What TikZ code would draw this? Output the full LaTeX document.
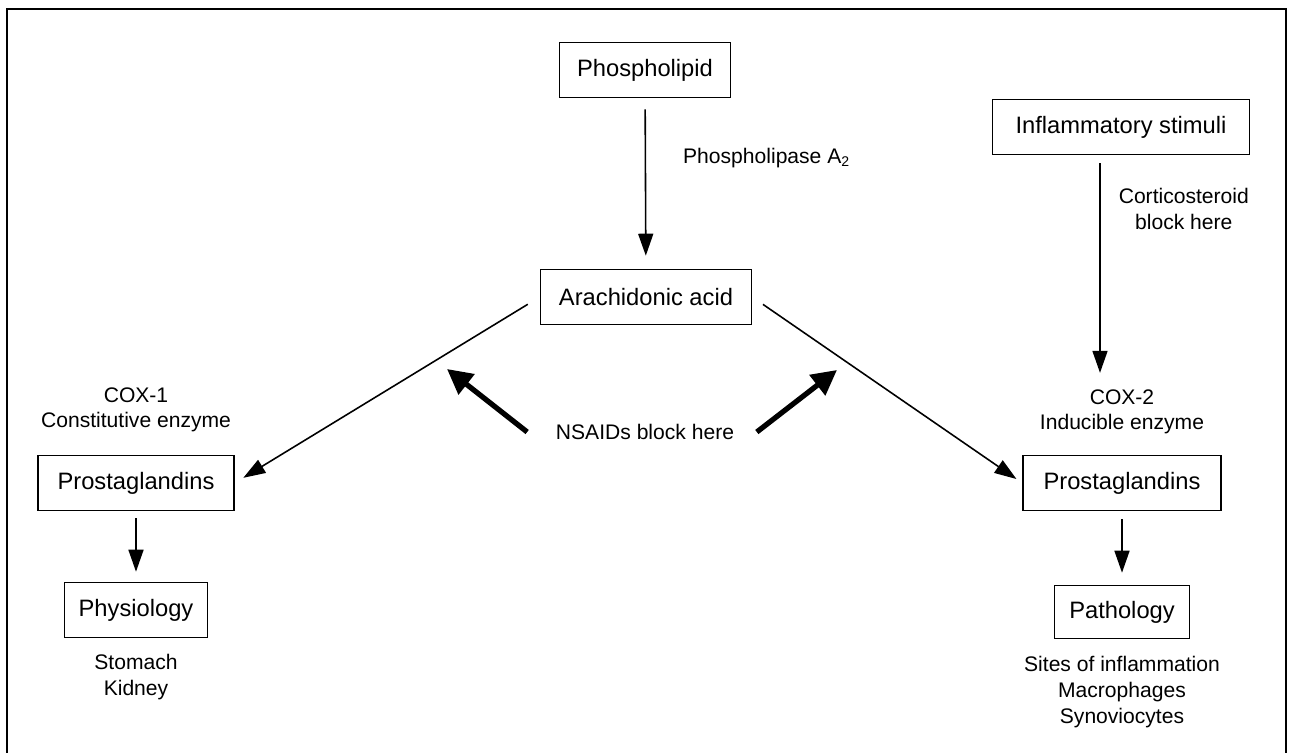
\documentclass[tikz,border=0pt]{standalone}
\usepackage{fontspec}
\setmainfont{Liberation Sans}
\usepackage{tikz}
\usetikzlibrary{positioning,arrows.meta,calc}

\begin{document}
\begin{tikzpicture}[x=0.02cm, y=-0.02cm,
  every node/.style={draw, line width=0.9pt, minimum height=1.1cm, font=\fontsize{13.5}{16}\selectfont},
  lbl/.style={draw=none, minimum height=0pt, minimum width=0pt, inner sep=0pt, align=center, font=\fontsize{12}{14.6}\selectfont},
  arr/.style={line width=0.9pt, -{Triangle[length=0.44cm,width=0.3cm]}},
  fat/.style={line width=3pt, -{Triangle[length=0.5cm,width=0.5cm]}}]
\useasboundingbox (0,0) rectangle (1289,753);
% frame
\draw[line width=1.5pt] (7,753) -- (7,9) -- (1286,9) -- (1286,753);

% boxes
\node[minimum width=3.42cm] (pl) at (645,70) {Phospholipid};
\node[minimum width=4.22cm] (aa) at (646,297) {Arachidonic acid};
\node[minimum width=5.14cm] (is) at (1121,127) {Inflammatory stimuli};
\node[minimum width=3.92cm] (pgl) at (136,483) {Prostaglandins};
\node[minimum width=3.96cm] (pgr) at (1122,483) {Prostaglandins};
\node[minimum width=2.86cm] (phy) at (136,610) {Physiology};
\node[minimum width=2.7cm, minimum height=1.06cm] (pat) at (1122,612) {Pathology};

% labels
\node[lbl] (cox1) at (136,410) {COX-1\\Constitutive enzyme};
\node[lbl] (cox2) at (1122,412) {COX-2\\Inducible enzyme};
\node[lbl] (ns) at (645,432) {NSAIDs block here};
\node[lbl] (org) at (136,677) {Stomach\\Kidney};
\node[lbl] (sites) at (1122,692) {Sites of inflammation\\Macrophages\\Synoviocytes};
\coordinate (nl) at (447,369);
\coordinate (nr) at (837,370);

% arrows
\draw[arr, shorten <=0.22cm, shorten >=0.26cm] (pl) -- node[lbl, pos=0.35, right=0.74cm] {Phospholipase A\textsubscript{2}} (aa);
\draw[arr, shorten <=0.16cm, shorten >=0.32cm] ([xshift=-0.42cm]is.south) -- node[lbl, pos=0.23, right=0.36cm] {Corticosteroid\\block here} ([xshift=-0.44cm]cox2.north);
\draw[arr, shorten <=0.28cm, shorten >=0.2cm] (aa.west) -- (pgl.east);
\draw[arr, shorten <=0.26cm, shorten >=0.14cm] (aa.east) -- (pgr.west);
\draw[arr, shorten <=0.14cm, shorten >=0.2cm] (pgl) -- (phy);
\draw[arr, shorten <=0.16cm, shorten >=0.24cm] (pgr) -- (pat);
\draw[fat] ([xshift=-0.56cm]ns.west) -- (nl);
\draw[fat] ([xshift=0.44cm]ns.east) -- (nr);
\end{tikzpicture}
\end{document}
